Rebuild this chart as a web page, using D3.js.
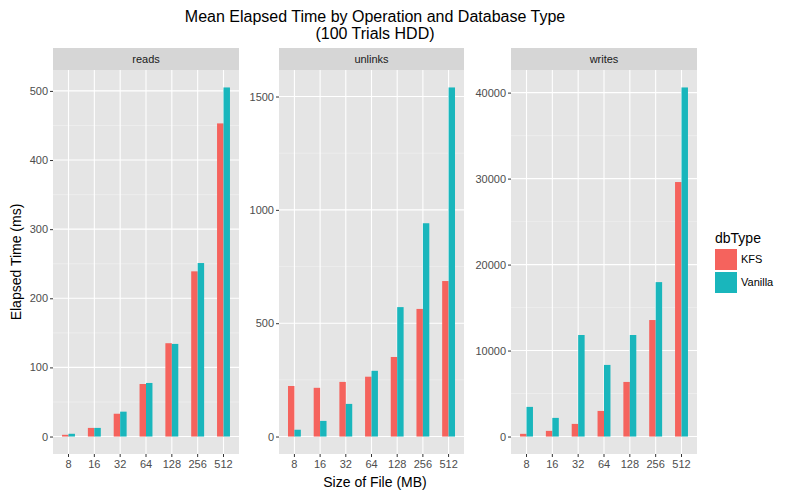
<!DOCTYPE html>
<html>
<head>
<meta charset="utf-8">
<script src="https://cdn.jsdelivr.net/npm/d3@7"></script>
<style>
  html, body { margin: 0; padding: 0; background: #fff; }
  svg { display: block; font-family: "Liberation Sans", Arial, Helvetica, sans-serif; }
</style>
</head>
<body>
<svg id="chart" width="800" height="497"></svg>
<script>
// ---- data ----
const sizes = ["8", "16", "32", "64", "128", "256", "512"];
const dbTypes = ["KFS", "Vanilla"];
const operations = ["reads", "unlinks", "writes"];

const readsKFS     = [2.5, 12.5, 33, 76, 135, 239, 453];
const readsVanilla = [4, 12.5, 36, 77.5, 134, 251, 505];
const unlinksKFS     = [223, 215, 241, 264, 351, 563, 686];
const unlinksVanilla = [30, 69, 144, 290, 571, 941, 1540];
const writesKFS     = [314, 660, 1470, 2980, 6350, 13550, 29600];
const writesVanilla = [3450, 2170, 11810, 8330, 11810, 17960, 40600];

const readsTicks   = [0, 100, 200, 300, 400, 500];
const unlinksTicks = [0, 500, 1000, 1500];
const writesTicks  = [0, 10000, 20000, 30000, 40000];

const readsMinor   = [50, 150, 250, 350, 450];
const unlinksMinor = [250, 750, 1250];
const writesMinor  = [5000, 15000, 25000, 35000];

const colors = ["#F5635D", "#19B6BC"];

// ---- layout ----
const svg = d3.select("#chart");
const panels = [
  { name: "reads",   x0: 53,  x1: 239, series: [readsKFS, readsVanilla],     ticks: readsTicks,   minor: readsMinor },
  { name: "unlinks", x0: 279, x1: 464, series: [unlinksKFS, unlinksVanilla], ticks: unlinksTicks, minor: unlinksMinor },
  { name: "writes",  x0: 511, x1: 697, series: [writesKFS, writesVanilla],   ticks: writesTicks,  minor: writesMinor }
];
const plotTop = 70, plotBottom = 454, stripTop = 48;
const tickCol = "#4D4D4D";

const color = d3.scaleOrdinal().domain(dbTypes).range(colors);

panels.forEach(p => {
  const g = svg.append("g");
  const maxV = d3.max(p.series.flat());
  const span = maxV - 0;
  const y = d3.scaleLinear().domain([0 - 0.05 * span, maxV + 0.05 * span]).range([plotBottom, plotTop]);
  const x = d3.scaleBand().domain(sizes).range([p.x0, p.x1]).paddingInner(0.5).paddingOuter(0.35);
  const xs = d3.scaleBand().domain(dbTypes).range([0, x.bandwidth()]);

  // strip
  g.append("rect").attr("x", p.x0).attr("y", stripTop).attr("width", p.x1 - p.x0).attr("height", plotTop - stripTop).attr("fill", "#D6D6D6");
  g.append("text").attr("x", (p.x0 + p.x1) / 2).attr("y", (stripTop + plotTop) / 2).attr("dy", "0.35em")
    .attr("text-anchor", "middle").attr("font-size", 11).attr("fill", "#1A1A1A").text(p.name);

  // panel background
  g.append("rect").attr("x", p.x0).attr("y", plotTop).attr("width", p.x1 - p.x0).attr("height", plotBottom - plotTop).attr("fill", "#E5E5E5");

  // minor gridlines
  g.selectAll(".minor").data(p.minor).enter().append("line")
    .attr("x1", p.x0).attr("x2", p.x1).attr("y1", d => y(d)).attr("y2", d => y(d))
    .attr("stroke", "#F2F2F2").attr("stroke-width", 0.6);
  // major gridlines
  g.selectAll(".majory").data(p.ticks).enter().append("line")
    .attr("x1", p.x0).attr("x2", p.x1).attr("y1", d => y(d)).attr("y2", d => y(d))
    .attr("stroke", "#fff").attr("stroke-width", 1.1);
  g.selectAll(".majorx").data(sizes).enter().append("line")
    .attr("x1", d => x(d) + x.bandwidth() / 2).attr("x2", d => x(d) + x.bandwidth() / 2)
    .attr("y1", plotTop).attr("y2", plotBottom)
    .attr("stroke", "#fff").attr("stroke-width", 1.1);

  // bars
  dbTypes.forEach((t, si) => {
    g.selectAll(".bar" + si).data(p.series[si]).enter().append("rect")
      .attr("x", (d, i) => x(sizes[i]) + xs(t))
      .attr("width", xs.bandwidth())
      .attr("y", d => y(d))
      .attr("height", d => y(0) - y(d))
      .attr("fill", color(t));
  });

  // y axis
  const yAxis = d3.axisLeft(y).tickValues(p.ticks).tickSize(3).tickPadding(2).tickFormat(d3.format("d"));
  const ya = g.append("g").attr("transform", `translate(${p.x0},0)`).call(yAxis);
  ya.select(".domain").remove();
  ya.selectAll("line").attr("stroke", "#333").attr("stroke-width", 1);
  ya.selectAll("text").attr("fill", tickCol).attr("font-size", 11).attr("font-family", "Liberation Sans, Arial, sans-serif");

  // x axis
  const xAxis = d3.axisBottom(x).tickSize(3).tickPadding(3);
  const xa = g.append("g").attr("transform", `translate(0,${plotBottom})`).call(xAxis);
  xa.select(".domain").remove();
  xa.selectAll("line").attr("stroke", "#333").attr("stroke-width", 1);
  xa.selectAll("text").attr("fill", tickCol).attr("font-size", 11).attr("font-family", "Liberation Sans, Arial, sans-serif");
});

// titles
const cx = (panels[0].x0 + panels[2].x1) / 2;
svg.append("text").attr("x", cx).attr("y", 22).attr("text-anchor", "middle").attr("font-size", 16).attr("fill", "#000")
  .text("Mean Elapsed Time by Operation and Database Type");
svg.append("text").attr("x", cx).attr("y", 39).attr("text-anchor", "middle").attr("font-size", 16).attr("fill", "#000")
  .text("(100 Trials HDD)");
svg.append("text").attr("x", cx).attr("y", 487).attr("text-anchor", "middle").attr("font-size", 14).attr("fill", "#000")
  .text("Size of File (MB)");
svg.append("text").attr("transform", `translate(21,${(plotTop + plotBottom) / 2}) rotate(-90)`)
  .attr("text-anchor", "middle").attr("font-size", 14).attr("fill", "#000").text("Elapsed Time (ms)");

// legend
const lg = svg.append("g").attr("transform", "translate(715,0)");
lg.append("text").attr("x", 0).attr("y", 243).attr("font-size", 14).attr("fill", "#000").text("dbType");
dbTypes.forEach((t, i) => {
  const yy = 249 + i * 23;
  lg.append("rect").attr("x", 0).attr("y", yy).attr("width", 22).attr("height", 21).attr("fill", color(t));
  lg.append("text").attr("x", 26).attr("y", yy + 10.5).attr("dy", "0.35em").attr("font-size", 11).attr("fill", "#000").text(t);
});
</script>
</body>
</html>
